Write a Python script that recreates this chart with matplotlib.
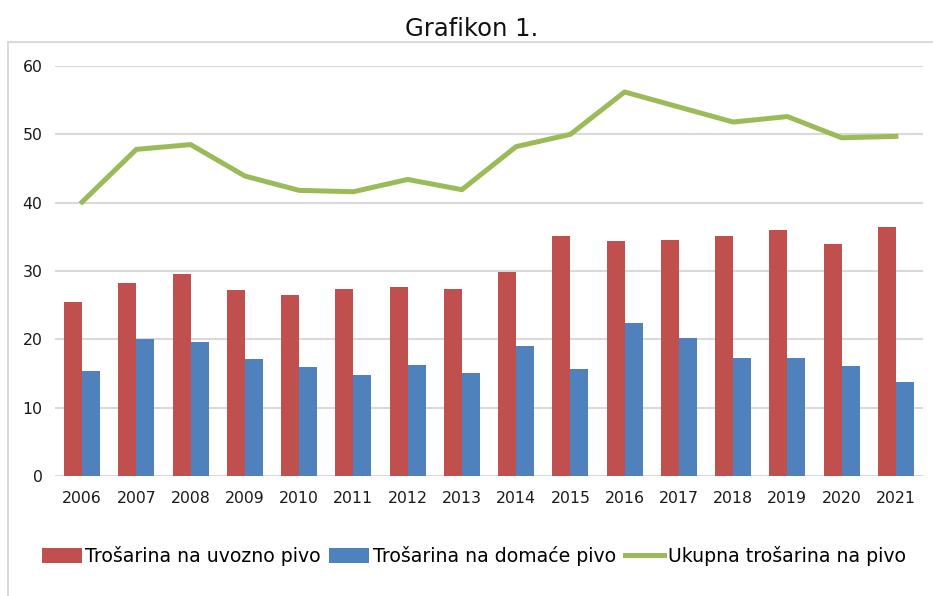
import matplotlib.pyplot as plt
import matplotlib.patches as mpatches
import numpy as np

# data
years = ['2006', '2007', '2008', '2009', '2010', '2011', '2012', '2013',
         '2014', '2015', '2016', '2017', '2018', '2019', '2020', '2021']
uvozno = [25.4, 28.3, 29.5, 27.2, 26.5, 27.4, 27.7, 27.4,
          29.8, 35.1, 34.4, 34.5, 35.1, 36.0, 33.9, 36.5]
domace = [15.4, 20.0, 19.6, 17.1, 15.9, 14.8, 16.3, 15.1,
          19.0, 15.6, 22.4, 20.2, 17.2, 17.2, 16.1, 13.8]
ukupno = [40.1, 47.8, 48.5, 43.9, 41.8, 41.6, 43.4, 41.9,
          48.2, 50.0, 56.2, 54.0, 51.8, 52.6, 49.5, 49.7]
labels = ['Trošarina na uvozno pivo', 'Trošarina na domaće pivo', 'Ukupna trošarina na pivo']

red = '#C0504D'
blue = '#4F81BD'
green = '#9BBB59'
grid_col = '#D9D9D9'

fig = plt.figure(figsize=(9.33, 5.96), dpi=100)
ax = fig.add_axes([55 / 933, 120 / 596, 868 / 933, 410 / 596])

x = np.arange(len(years))
w = 0.33
b1 = ax.bar(x - w / 2, uvozno, width=w, color=red, zorder=2)
b2 = ax.bar(x + w / 2, domace, width=w, color=blue, zorder=2)
l1, = ax.plot(x, ukupno, color=green, lw=3.6, zorder=3, solid_joinstyle='round')

ax.set_xlim(-0.5, len(years) - 0.5)
ax.set_ylim(0, 60)
ax.set_yticks(range(0, 61, 10))
ax.set_xticks(x)
ax.set_xticklabels(years)
ax.yaxis.grid(True, color=grid_col, lw=1.5)
ax.set_axisbelow(True)
for s in ax.spines.values():
    s.set_visible(False)
ax.tick_params(axis='both', length=0, labelsize=11.3, colors='#1a1a1a')
ax.tick_params(axis='x', pad=11)
ax.tick_params(axis='y', pad=9)

# outer frame of the chart area
fig.patches.append(mpatches.Rectangle((8 / 933, -0.02), 1.0, 0.9287 + 0.02,
                                      transform=fig.transFigure, fill=False,
                                      edgecolor=grid_col, lw=1.4))

fig.text(0.506, 1 - 29 / 596, 'Grafikon 1.', ha='center', va='center', fontsize=17.5, color='#111111')

fig.legend([b1, b2, l1], labels, loc='center', bbox_to_anchor=(0.508, 1 - 556 / 596),
           ncol=3, frameon=False, fontsize=13.6, handlelength=2.1, handleheight=0.85,
           handletextpad=0.2, columnspacing=0.45, borderaxespad=0)

fig.savefig('out.png', dpi=100)
